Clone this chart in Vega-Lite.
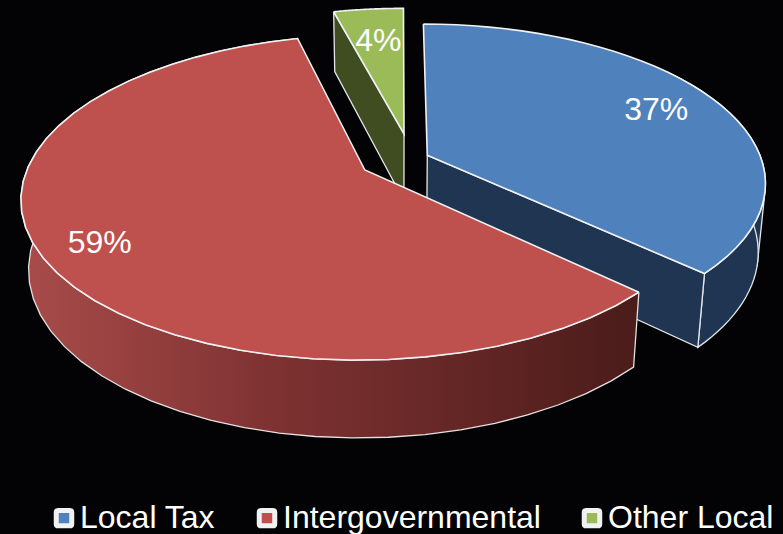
{
  "$schema": "https://vega.github.io/schema/vega-lite/v6.json",
  "width": 783,
  "height": 534,
  "padding": 0,
  "autosize": {"type": "none"},
  "background": "#030305",
  "view": {"stroke": null},
  "config": {"font": "Liberation Sans"},
  "data": {"values": [
    {"slice": "Local Tax", "share": 37},
    {"slice": "Intergovernmental", "share": 59},
    {"slice": "Other Local", "share": 4}
  ]},
  "transform": [
    {"window": [{"op": "sum", "field": "share", "as": "cum"}], "ignorePeers": true, "frame": [null, 0]},
    {"calculate": "(datum.cum - datum.share) / 100 * 2 * PI", "as": "a0"},
    {"calculate": "datum.cum / 100 * 2 * PI", "as": "a1"},
    {"calculate": "datum.slice == 'Local Tax' ? 0.082 : datum.slice == 'Other Local' ? 0.0124 : -0.104", "as": "u0"},
    {"calculate": "datum.slice == 'Local Tax' ? -0.0945 : datum.slice == 'Other Local' ? -0.237 : 0", "as": "v0"},
    {"calculate": "datum.slice == 'Local Tax' ? 0.79 : datum.slice == 'Other Local' ? 0.72 : 0.84", "as": "labelRadius"},
    {"calculate": "datum.share + '%'", "as": "label"},
    {"calculate": "['rib', 'wall', 'cut', 'face', 'label']", "as": "part"},
    {"flatten": ["part"]},
    {"calculate": "sequence(83)", "as": "seq"},
    {"flatten": ["seq"]},
    {"filter": "(datum.part == 'face' && datum.seq <= 42) || (datum.part == 'wall' && datum.seq <= 82) || (datum.part == 'cut' && datum.seq <= 4) || (datum.part == 'rib' && datum.seq <= 3) || (datum.part == 'label' && datum.seq == 0)"},
    {"calculate": "datum.part == 'label' ? 0.5 : datum.part == 'rib' ? (datum.slice == 'Local Tax' ? (datum.seq == 2 ? 0.9 : 0.784) : (datum.seq == 2 ? 0.6 : 0.7)) : datum.part == 'cut' ? (datum.slice == 'Local Tax' ? 1 : 0) : datum.seq <= 40 ? datum.seq / 40 : (datum.part == 'wall' && datum.seq <= 81) ? (81 - datum.seq) / 40 : 0", "as": "frac"},
    {"calculate": "datum.part == 'wall' && datum.slice == 'Local Tax' ? 0.4 + 0.6 * datum.frac : datum.frac", "as": "frac"},
    {"calculate": "datum.part == 'label' ? datum.labelRadius : datum.part == 'wall' || datum.part == 'rib' ? 1 : datum.part == 'face' ? (datum.seq == 41 ? 0 : 1) : (datum.seq == 1 || datum.seq == 2 ? 1 : 0)", "as": "rad"},
    {"calculate": "datum.part == 'wall' ? (datum.seq >= 41 && datum.seq <= 81 ? 1 : 0) : datum.part == 'rib' ? (datum.seq == 1 ? 1 : 0) : datum.part == 'cut' ? (datum.seq == 2 || datum.seq == 3 ? 1 : 0) : 0", "as": "depth"},
    {"calculate": "datum.a0 + (datum.a1 - datum.a0) * datum.frac", "as": "theta"},
    {"calculate": "datum.u0 + datum.rad * sin(datum.theta)", "as": "pu"},
    {"calculate": "datum.v0 - datum.rad * cos(datum.theta)", "as": "pv"},
    {"calculate": "1 - 0.169 * datum.pv + 0.02 * datum.depth", "as": "persp"},
    {"calculate": "400 + 338 * datum.pu / datum.persp", "as": "px"},
    {"calculate": "170 + (158 * datum.pv + 70 * datum.depth) / datum.persp", "as": "py"}
  ],
  "encoding": {
    "x": {"field": "px", "type": "quantitative", "axis": null, "scale": {"domain": [0, 783], "range": [0, 783]}},
    "y": {"field": "py", "type": "quantitative", "axis": null, "scale": {"domain": [0, 534], "range": [0, 534]}},
    "order": {"field": "seq", "type": "quantitative"}
  },
  "layer": [
    {
      "transform": [{"filter": "datum.slice == 'Local Tax' && datum.part == 'rib'"}],
      "mark": {"type": "line", "fill": "#1f3552", "stroke": "#e4e7ea", "strokeWidth": 1.3}
    },
    {
      "transform": [{"filter": "datum.slice == 'Local Tax' && datum.part == 'wall'"}],
      "mark": {"type": "line", "fill": "#1f3552", "stroke": "#e4e7ea", "strokeWidth": 1.3}
    },
    {
      "transform": [{"filter": "datum.slice == 'Local Tax' && datum.part == 'cut'"}],
      "mark": {"type": "line", "fill": "#1f3552", "stroke": "#e4e7ea", "strokeWidth": 1.3}
    },
    {
      "transform": [{"filter": "datum.slice == 'Other Local' && datum.part == 'cut'"}],
      "mark": {"type": "line", "fill": "#404d21", "stroke": "#e4e7ea", "strokeWidth": 1.3}
    },
    {
      "transform": [{"filter": "datum.part == 'face' && datum.slice != 'Intergovernmental'"}],
      "mark": {"type": "line", "stroke": "#f0f1f2", "strokeWidth": 1.6},
      "encoding": {
        "detail": {"field": "slice"},
        "fill": {
          "field": "slice",
          "type": "nominal",
          "scale": {"domain": ["Local Tax", "Intergovernmental", "Other Local"], "range": ["#4f81bd", "#be504d", "#9bbb59"]},
          "legend": {
            "title": null,
            "orient": "none",
            "legendX": 48,
            "legendY": 502,
            "direction": "horizontal",
            "columns": 3,
            "columnPadding": 33,
            "labelColor": "#ffffff",
            "labelFont": "Liberation Sans",
            "labelFontSize": 32,
            "labelLimit": 400,
            "labelOffset": 0,
            "symbolType": "M-0.75,-1 H0.75 Q1,-1 1,-0.75 V0.75 Q1,1 0.75,1 H-0.75 Q-1,1 -1,0.75 V-0.75 Q-1,-1 -0.75,-1 Z",
            "symbolSize": 240,
            "symbolOpacity": 1,
            "symbolStrokeColor": "#ffffff",
            "symbolStrokeWidth": 5
          }
        }
      }
    },
    {
      "transform": [{"filter": "datum.slice == 'Intergovernmental' && datum.part == 'rib'"}],
      "mark": {"type": "line", "fill": "#a84c4a", "stroke": "#e6e0e0", "strokeWidth": 1.3}
    },
    {
      "transform": [{"filter": "datum.slice == 'Intergovernmental' && datum.part == 'wall'"}],
      "mark": {
        "type": "line",
        "stroke": "#e6e0e0",
        "strokeWidth": 1.3,
        "fill": {
          "gradient": "linear", "x1": 0, "x2": 1, "y1": 0, "y2": 0,
          "stops": [
            {"offset": 0, "color": "#a84c4a"},
            {"offset": 0.4, "color": "#7f3232"},
            {"offset": 1, "color": "#4a1c1a"}
          ]
        }
      }
    },
    {
      "transform": [{"filter": "datum.part == 'face' && datum.slice == 'Intergovernmental'"}],
      "mark": {"type": "line", "stroke": "#f0f1f2", "strokeWidth": 1.6},
      "encoding": {
        "fill": {"field": "slice", "type": "nominal"}
      }
    },
    {
      "transform": [{"filter": "datum.part == 'label'"}],
      "mark": {"type": "text", "font": "Liberation Sans", "fontSize": 32, "color": "#ffffff", "align": "center", "baseline": "middle", "dx": 1},
      "encoding": {"text": {"field": "label", "type": "nominal"}}
    }
  ]
}
